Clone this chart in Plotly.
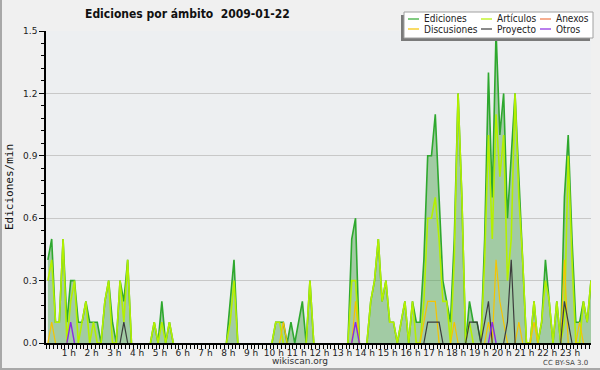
import plotly.graph_objects as go

# ---- data: 10-minute bins, values in edits per minute ----
bin_minutes = 10
n_bins = 144

ediciones = [
    0.4, 0.5, 0.1, 0.1, 0.5, 0.1,   # 0 h
    0.3, 0.3, 0.1, 0.1, 0.2, 0.1,   # 1 h
    0.1, 0.1, 0.0, 0.2, 0.3, 0.1,   # 2 h
    0.0, 0.3, 0.2, 0.4, 0.0, 0.0,   # 3 h
    0.0, 0.0, 0.0, 0.0, 0.1, 0.0,   # 4 h
    0.2, 0.0, 0.1, 0.0, 0.0, 0.0,   # 5 h
    0.0, 0.0, 0.0, 0.0, 0.0, 0.0,   # 6 h
    0.0, 0.0, 0.0, 0.0, 0.0, 0.0,   # 7 h
    0.2, 0.4, 0.0, 0.0, 0.0, 0.0,   # 8 h
    0.0, 0.0, 0.0, 0.0, 0.0, 0.0,   # 9 h
    0.1, 0.1, 0.1, 0.0, 0.1, 0.0,   # 10 h
    0.1, 0.2, 0.0, 0.3, 0.0, 0.0,   # 11 h
    0.0, 0.0, 0.0, 0.0, 0.0, 0.0,   # 12 h
    0.0, 0.0, 0.5, 0.6, 0.0, 0.0,   # 13 h
    0.0, 0.2, 0.3, 0.5, 0.2, 0.3,   # 14 h
    0.1, 0.1, 0.0, 0.1, 0.2, 0.0,   # 15 h
    0.2, 0.1, 0.1, 0.4, 0.9, 0.9,   # 16 h
    1.1, 0.7, 0.3, 0.2, 0.1, 0.5,   # 17 h
    1.2, 0.7, 0.0, 0.2, 0.1, 0.1,   # 18 h
    0.0, 0.5, 1.3, 0.7, 1.5, 1.0,   # 19 h
    1.2, 0.6, 0.9, 1.2, 0.8, 0.4,   # 20 h
    0.0, 0.0, 0.2, 0.0, 0.1, 0.4,   # 21 h
    0.2, 0.0, 0.2, 0.0, 0.7, 1.0,   # 22 h
    0.5, 0.1, 0.1, 0.2, 0.1, 0.3,   # 23 h
]

articulos = [
    0.3, 0.4, 0.1, 0.1, 0.5, 0.0,
    0.2, 0.3, 0.0, 0.1, 0.2, 0.0,
    0.1, 0.0, 0.0, 0.2, 0.3, 0.0,
    0.0, 0.3, 0.1, 0.4, 0.0, 0.0,
    0.0, 0.0, 0.0, 0.0, 0.1, 0.0,
    0.1, 0.0, 0.1, 0.0, 0.0, 0.0,
    0.0, 0.0, 0.0, 0.0, 0.0, 0.0,
    0.0, 0.0, 0.0, 0.0, 0.0, 0.0,
    0.1, 0.3, 0.0, 0.0, 0.0, 0.0,
    0.0, 0.0, 0.0, 0.0, 0.0, 0.0,
    0.1, 0.1, 0.0, 0.0, 0.0, 0.0,
    0.0, 0.0, 0.0, 0.3, 0.0, 0.0,
    0.0, 0.0, 0.0, 0.0, 0.0, 0.0,
    0.0, 0.0, 0.3, 0.3, 0.0, 0.0,
    0.0, 0.2, 0.3, 0.5, 0.2, 0.3,
    0.1, 0.1, 0.0, 0.1, 0.2, 0.0,
    0.2, 0.0, 0.0, 0.2, 0.6, 0.6,
    0.7, 0.5, 0.2, 0.2, 0.0, 0.4,
    1.2, 0.7, 0.0, 0.1, 0.0, 0.0,
    0.0, 0.4, 1.0, 0.5, 1.1, 0.8,
    1.0, 0.3, 0.5, 1.2, 0.7, 0.4,
    0.0, 0.0, 0.2, 0.0, 0.1, 0.3,
    0.2, 0.0, 0.2, 0.0, 0.1, 0.9,
    0.4, 0.0, 0.0, 0.2, 0.1, 0.3,
]

anexos = [
    0.0, 0.0, 0.0, 0.0, 0.0, 0.0,
    0.0, 0.0, 0.0, 0.0, 0.0, 0.0,
    0.0, 0.0, 0.0, 0.0, 0.0, 0.0,
    0.0, 0.0, 0.0, 0.0, 0.0, 0.0,
    0.0, 0.0, 0.0, 0.0, 0.0, 0.0,
    0.0, 0.0, 0.0, 0.0, 0.0, 0.0,
    0.0, 0.0, 0.0, 0.0, 0.0, 0.0,
    0.0, 0.0, 0.0, 0.0, 0.0, 0.0,
    0.0, 0.0, 0.0, 0.0, 0.0, 0.0,
    0.0, 0.0, 0.0, 0.0, 0.0, 0.0,
    0.0, 0.0, 0.0, 0.0, 0.0, 0.0,
    0.0, 0.0, 0.0, 0.0, 0.0, 0.0,
    0.0, 0.0, 0.0, 0.0, 0.0, 0.0,
    0.0, 0.0, 0.0, 0.0, 0.0, 0.0,
    0.0, 0.0, 0.0, 0.0, 0.0, 0.0,
    0.0, 0.0, 0.0, 0.0, 0.0, 0.0,
    0.0, 0.0, 0.0, 0.0, 0.0, 0.0,
    0.0, 0.0, 0.0, 0.0, 0.0, 0.0,
    0.0, 0.0, 0.0, 0.0, 0.0, 0.0,
    0.0, 0.0, 0.0, 0.0, 0.0, 0.0,
    0.0, 0.0, 0.0, 0.0, 0.0, 0.0,
    0.0, 0.0, 0.0, 0.0, 0.0, 0.0,
    0.0, 0.0, 0.0, 0.0, 0.0, 0.0,
    0.0, 0.0, 0.0, 0.0, 0.0, 0.0,
]

discusiones = [
    0.0, 0.1, 0.0, 0.0, 0.0, 0.0,
    0.0, 0.0, 0.0, 0.0, 0.0, 0.0,
    0.0, 0.0, 0.0, 0.0, 0.0, 0.0,
    0.0, 0.0, 0.0, 0.0, 0.0, 0.0,
    0.0, 0.0, 0.0, 0.0, 0.0, 0.0,
    0.0, 0.0, 0.0, 0.0, 0.0, 0.0,
    0.0, 0.0, 0.0, 0.0, 0.0, 0.0,
    0.0, 0.0, 0.0, 0.0, 0.0, 0.0,
    0.0, 0.0, 0.0, 0.0, 0.0, 0.0,
    0.0, 0.0, 0.0, 0.0, 0.0, 0.0,
    0.0, 0.0, 0.1, 0.0, 0.0, 0.0,
    0.0, 0.0, 0.0, 0.0, 0.0, 0.0,
    0.0, 0.0, 0.0, 0.0, 0.0, 0.0,
    0.0, 0.0, 0.0, 0.2, 0.0, 0.0,
    0.0, 0.0, 0.0, 0.0, 0.0, 0.0,
    0.0, 0.0, 0.0, 0.0, 0.0, 0.0,
    0.0, 0.0, 0.0, 0.1, 0.2, 0.2,
    0.2, 0.0, 0.0, 0.0, 0.0, 0.1,
    0.0, 0.0, 0.0, 0.0, 0.0, 0.0,
    0.0, 0.0, 0.1, 0.0, 0.4, 0.2,
    0.1, 0.0, 0.0, 0.0, 0.1, 0.0,
    0.0, 0.0, 0.1, 0.0, 0.0, 0.0,
    0.0, 0.0, 0.0, 0.0, 0.4, 0.0,
    0.0, 0.0, 0.1, 0.0, 0.0, 0.0,
]

proyecto = [
    0.0, 0.0, 0.0, 0.0, 0.0, 0.0,
    0.0, 0.0, 0.0, 0.0, 0.0, 0.0,
    0.0, 0.0, 0.0, 0.0, 0.0, 0.0,
    0.0, 0.0, 0.1, 0.0, 0.0, 0.0,
    0.0, 0.0, 0.0, 0.0, 0.0, 0.0,
    0.0, 0.0, 0.0, 0.0, 0.0, 0.0,
    0.0, 0.0, 0.0, 0.0, 0.0, 0.0,
    0.0, 0.0, 0.0, 0.0, 0.0, 0.0,
    0.0, 0.0, 0.0, 0.0, 0.0, 0.0,
    0.0, 0.0, 0.0, 0.0, 0.0, 0.0,
    0.0, 0.0, 0.0, 0.0, 0.0, 0.0,
    0.0, 0.0, 0.0, 0.0, 0.0, 0.0,
    0.0, 0.0, 0.0, 0.0, 0.0, 0.0,
    0.0, 0.0, 0.0, 0.0, 0.0, 0.0,
    0.0, 0.0, 0.0, 0.0, 0.0, 0.0,
    0.0, 0.0, 0.0, 0.0, 0.0, 0.0,
    0.0, 0.0, 0.0, 0.0, 0.1, 0.1,
    0.1, 0.1, 0.0, 0.0, 0.0, 0.0,
    0.0, 0.0, 0.0, 0.1, 0.1, 0.1,
    0.0, 0.1, 0.2, 0.0, 0.0, 0.0,
    0.0, 0.1, 0.4, 0.0, 0.0, 0.0,
    0.0, 0.0, 0.0, 0.0, 0.0, 0.0,
    0.0, 0.0, 0.0, 0.0, 0.2, 0.1,
    0.0, 0.0, 0.0, 0.0, 0.0, 0.0,
]

otros = [
    0.0, 0.0, 0.0, 0.0, 0.0, 0.0,
    0.1, 0.0, 0.0, 0.0, 0.0, 0.0,
    0.0, 0.0, 0.0, 0.0, 0.0, 0.0,
    0.0, 0.0, 0.0, 0.0, 0.0, 0.0,
    0.0, 0.0, 0.0, 0.0, 0.0, 0.0,
    0.0, 0.0, 0.0, 0.0, 0.0, 0.0,
    0.0, 0.0, 0.0, 0.0, 0.0, 0.0,
    0.0, 0.0, 0.0, 0.0, 0.0, 0.0,
    0.0, 0.0, 0.0, 0.0, 0.0, 0.0,
    0.0, 0.0, 0.0, 0.0, 0.0, 0.0,
    0.0, 0.0, 0.0, 0.0, 0.0, 0.0,
    0.0, 0.0, 0.0, 0.0, 0.0, 0.0,
    0.0, 0.0, 0.0, 0.0, 0.0, 0.0,
    0.0, 0.0, 0.0, 0.1, 0.0, 0.0,
    0.0, 0.0, 0.0, 0.0, 0.0, 0.0,
    0.0, 0.0, 0.0, 0.0, 0.0, 0.0,
    0.0, 0.0, 0.0, 0.0, 0.0, 0.0,
    0.0, 0.0, 0.0, 0.0, 0.0, 0.0,
    0.0, 0.0, 0.0, 0.0, 0.0, 0.0,
    0.0, 0.0, 0.0, 0.1, 0.0, 0.0,
    0.0, 0.0, 0.0, 0.0, 0.0, 0.0,
    0.0, 0.0, 0.0, 0.0, 0.0, 0.0,
    0.0, 0.0, 0.0, 0.0, 0.0, 0.0,
    0.0, 0.0, 0.0, 0.0, 0.0, 0.0,
]

hour_ticks = list(range(1, 24))
hour_labels = [f"{h} h" for h in hour_ticks]
y_ticks = [0.0, 0.3, 0.6, 0.9, 1.2, 1.5]

title_text = "Ediciones por ámbito\u00a0 2009-01-22"

# bin centres in hours
x_hours = [(i * bin_minutes + bin_minutes / 2) / 60 for i in range(n_bins)]


def hide_flat_zero(vals):
    """Keep zeros only next to non-zero bins so idle stretches sit under the axis."""
    out = []
    n = len(vals)
    for i, v in enumerate(vals):
        near = (v != 0 or (i > 0 and vals[i - 1] != 0) or (i < n - 1 and vals[i + 1] != 0))
        out.append(v if near else None)
    return out


series = [
    ("Ediciones", ediciones, "#2EA82E", 1.6),
    ("Artículos", articulos, "#B4F000", 1.6),
    ("Anexos", anexos, "#F07848", 1.2),
    ("Discusiones", discusiones, "#F5C400", 1.2),
    ("Proyecto", proyecto, "#3C3C3C", 1.2),
    ("Otros", otros, "#8A2BE2", 1.4),
]

fig = go.Figure()
fig.add_trace(go.Scatter(
    x=x_hours, y=hide_flat_zero(ediciones), name="Ediciones", mode="lines",
    line=dict(color="#2EA82E", width=1.6), fill="tozeroy",
    fillcolor="rgba(70,160,70,0.45)", showlegend=False))
for name, vals, col, w in [series[2], series[1], series[3], series[4], series[5]]:
    fig.add_trace(go.Scatter(
        x=x_hours, y=hide_flat_zero(vals), name=name, mode="lines",
        line=dict(color=col, width=w), showlegend=False))

# ---- layout geometry (pixels) ----
W, H = 600, 370
L, R, T, B = 46, 9, 31, 27
PW, PH = W - L - R, H - T - B

def px_x(px):
    return (px - L) / PW

def px_y(py):
    return (H - B - py) / PH

FONT = "DejaVu Sans"
COND_FONT = "DejaVu Sans Condensed, DejaVu Sans"

shapes = []
annotations = []

# custom legend box with shadow
shapes.append(dict(type="rect", xref="paper", yref="paper", layer="above",
                   x0=px_x(401), x1=px_x(590), y0=px_y(41), y1=px_y(15),
                   fillcolor="#7A7A7A", line=dict(width=0)))
shapes.append(dict(type="rect", xref="paper", yref="paper", layer="above",
                   x0=px_x(404), x1=px_x(593), y0=px_y(38), y1=px_y(12),
                   fillcolor="#FFFFFF", line=dict(color="#A0A0A0", width=1)))

legend_layout = [
    ("Ediciones", 408, 19), ("Artículos", 481, 19), ("Anexos", 540, 19),
    ("Discusiones", 408, 29), ("Proyecto", 481, 29), ("Otros", 540, 29),
]
colors = {s[0]: s[2] for s in series}
for name, lx, ly in legend_layout:
    shapes.append(dict(type="line", xref="paper", yref="paper", layer="above",
                       x0=px_x(lx), x1=px_x(lx + 11), y0=px_y(ly), y1=px_y(ly),
                       line=dict(color=colors[name], width=1.2)))
    annotations.append(dict(xref="paper", yref="paper", x=px_x(lx + 14), y=px_y(ly),
                            xanchor="left", yanchor="middle", showarrow=False,
                            text=name, font=dict(family=COND_FONT, size=10, color="#222222")))

# footer texts
annotations.append(dict(xref="paper", yref="paper", x=px_x(300), y=px_y(361),
                        xanchor="center", yanchor="middle", showarrow=False,
                        text="wikiscan.org", font=dict(family=FONT, size=9, color="#333333")))
annotations.append(dict(xref="paper", yref="paper", x=px_x(590), y=px_y(362.5),
                        xanchor="right", yanchor="middle", showarrow=False,
                        text="CC BY-SA 3.0", font=dict(family=FONT, size=7, color="#444444")))

# image frame (left and bottom)
shapes.append(dict(type="line", xref="paper", yref="paper", layer="above",
                   x0=px_x(1), x1=px_x(1), y0=px_y(0), y1=px_y(369),
                   line=dict(color="#A8A8A8", width=2)))
shapes.append(dict(type="line", xref="paper", yref="paper", layer="above",
                   x0=px_x(0), x1=px_x(600), y0=px_y(369), y1=px_y(369),
                   line=dict(color="#A8A8A8", width=2)))

fig.update_layout(
    width=W, height=H,
    margin=dict(l=L, r=R, t=T, b=B, pad=0, autoexpand=False),
    paper_bgcolor="#F0F0F0",
    plot_bgcolor="#EDEFF1",
    showlegend=False,
    title=dict(text="<b>" + title_text + "</b>", x=85 / W, xanchor="left",
               y=1 - 14 / H, yanchor="middle", xref="container", yref="container",
               font=dict(family=COND_FONT, size=12, color="#111111")),
    font=dict(family=FONT, size=9, color="#222222"),
    shapes=shapes,
    annotations=annotations,
)

fig.update_xaxes(
    automargin=False,
    range=[0, n_bins * bin_minutes / 60 - bin_minutes / 120],
    tickvals=hour_ticks, ticktext=hour_labels,
    ticks="outside", ticklen=4, tickwidth=1, tickcolor="#000000",
    ticklabelstandoff=-4,
    minor=dict(dtick=bin_minutes / 60, tick0=0, ticks="outside", ticklen=4,
               tickwidth=1, tickcolor="#000000", showgrid=False),
    showgrid=False, zeroline=False,
    showline=True, linecolor="#000000", linewidth=1.5,
    tickfont=dict(family=FONT, size=9, color="#222222"),
)

fig.update_yaxes(
    automargin=False,
    range=[0, 1.5],
    tickvals=y_ticks, tickformat=".1f",
    ticks="outside", ticklen=5, tickwidth=1, tickcolor="#000000",
    minor=dict(dtick=0.06, tick0=0, ticks="outside", ticklen=3, tickwidth=1,
               tickcolor="#000000", showgrid=False),
    showgrid=True, gridcolor="#C8C8C8", gridwidth=1,
    zeroline=False,
    showline=True, linecolor="#000000", linewidth=1.5,
    tickfont=dict(family=FONT, size=9, color="#222222"),
    title=dict(text="Ediciones/min", standoff=7,
               font=dict(family="DejaVu Sans Mono", size=11, color="#111111")),
)

fig.write_html("out.html", config={"displayModeBar": False},
               post_script="document.body.style.margin='0';")
